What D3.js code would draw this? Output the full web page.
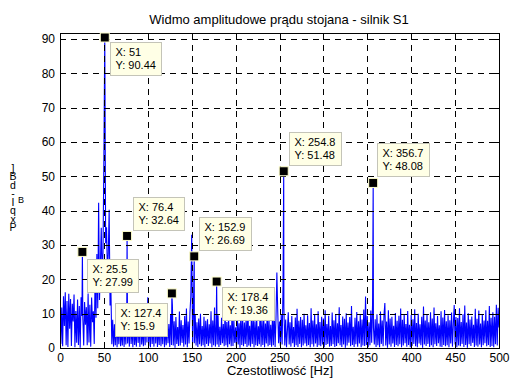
<!DOCTYPE html>
<html>
<head>
<meta charset="utf-8">
<script src="https://cdn.jsdelivr.net/npm/d3@7"></script>
<style>
  body { margin: 0; background: #fff; }
  svg { display: block; font-family: "Liberation Sans", Arial, sans-serif; }
</style>
</head>
<body>
<svg id="chart" width="511" height="379"></svg>
<script>
// ---- text ----
const titleText = "Widmo amplitudowe prądu stojana - silnik S1";
const xLabelText = "Czestotliwość [Hz]";
const yLabelText = "]Bd-IqxP";
const yLabelSub = "B";

// ---- ticks ----
const xTicks = [0, 50, 100, 150, 200, 250, 300, 350, 400, 450, 500];
const yTicks = [0, 10, 20, 30, 40, 50, 60, 70, 80, 90];

// ---- amplitude spectrum, 1 Hz bins from 0 to 500 Hz ----
const freqStep = 1;
const spectrum = [
  18.5, 1.2, 11.8, 0.5, 15.1, 6.4, 16.2, 0.8, 13.7, 0.3,
  15.8, 5.6, 14.3, 0.6, 12.9, 7.7, 15.6, 0.2, 10.8, 1.5,
  14.1, 0.9, 12.2, 0.1, 14.8, 9.3, 8.6, 0.7, 13.4, 6.8,
  11.9, 0.8, 15.9, 1.6, 12.6, 0.4, 14.7, 7.5, 10.7, 1.2,
  21.5, 8.8, 27.4, 11.6, 42.3, 14.0, 24.5, 35.0, 21.0, 28.0,
  56.0, 60.0, 30.5, 35.2, 22.0, 27.5, 40.3, 12.4, 16.8, 1.1,
  8.2, 0.4, 6.9, 0.8, 9.1, 0.2, 7.3, 1.1, 8.8, 0.5,
  5.8, 0.7, 9.4, 0.3, 6.6, 1.0, 8.3, 1.3, 7.2, 0.4,
  10.1, 1.2, 6.2, 0.2, 8.7, 0.9, 5.5, 0.4, 9.8, 1.5,
  7.1, 0.3, 11.2, 1.0, 6.0, 0.5, 8.9, 0.8, 12.3, 1.6,
  14.8, 0.6, 7.6, 0.2, 9.2, 1.2, 6.5, 0.4, 10.4, 1.3,
  8.0, 0.3, 6.8, 0.9, 9.6, 0.5, 7.4, 1.1, 11.0, 0.2,
  6.3, 0.8, 8.5, 1.4, 7.0, 0.3, 9.9, 0.9, 12.6, 0.7,
  7.8, 0.1, 9.0, 1.2, 6.1, 0.6, 10.6, 0.7, 8.1, 1.5,
  6.7, 0.4, 9.3, 1.0, 11.5, 0.2, 7.7, 1.3, 10.2, 15.2,
  33.0, 1.6, 12.8, 1.4, 9.7, 0.7, 7.5, 0.3, 8.6, 1.1,
  10.0, 0.5, 6.4, 0.8, 9.1, 0.2, 7.9, 1.2, 8.4, 0.6,
  6.9, 1.3, 10.7, 0.2, 8.0, 0.8, 11.8, 0.4, 7.3, 1.0,
  9.5, 0.3, 6.2, 0.9, 8.8, 1.4, 7.0, 0.5, 10.3, 0.8,
  7.6, 0.2, 9.4, 1.1, 6.6, 0.5, 11.1, 0.6, 8.2, 1.5,
  6.0, 0.3, 9.8, 1.0, 7.2, 0.1, 10.5, 0.9, 8.7, 0.5,
  7.4, 1.2, 9.0, 0.3, 11.7, 0.7, 6.5, 0.4, 8.9, 1.2,
  10.2, 0.2, 7.8, 0.8, 9.6, 0.6, 6.3, 1.1, 12.0, 0.4,
  8.1, 0.9, 9.7, 0.2, 7.1, 1.3, 10.8, 0.5, 8.5, 0.9,
  6.8, 0.4, 9.2, 0.8, 11.3, 0.3, 8.4, 22.0, 10.6, 1.4,
  7.7, 0.6, 9.9, 1.0, 17.5, 12.0, 0.7, 8.3, 0.2, 5.2,
  10.4, 1.0, 7.5, 0.4, 9.3, 1.4, 6.1, 0.3, 8.9, 0.8,
  11.4, 0.3, 7.9, 1.2, 9.0, 0.2, 8.2, 0.7, 10.0, 1.3,
  6.6, 0.5, 9.5, 0.9, 7.3, 0.2, 11.6, 1.1, 8.0, 0.4,
  9.8, 1.3, 6.9, 0.3, 10.7, 0.8, 7.6, 0.5, 9.1, 1.0,
  8.6, 0.2, 11.0, 0.9, 7.0, 1.2, 9.4, 0.4, 6.4, 0.6,
  10.3, 1.1, 8.1, 0.3, 9.7, 0.6, 7.2, 1.4, 11.9, 0.8,
  6.7, 0.3, 9.2, 1.0, 8.5, 0.1, 10.1, 0.7, 7.4, 1.5,
  9.0, 0.5, 12.2, 0.9, 6.2, 0.3, 8.8, 1.1, 10.5, 0.4,
  7.8, 1.3, 9.6, 0.2, 8.3, 0.7, 11.2, 0.6, 15.0, 0.9,
  9.3, 0.2, 7.5, 0.8, 10.9, 1.5, 13.0, 6.0, 1.0, 8.4,
  0.3, 9.8, 0.8, 7.1, 0.2, 10.6, 1.2, 8.0, 0.5, 9.5,
  13.1, 0.7, 7.7, 0.1, 11.0, 1.0, 8.6, 0.4, 9.1, 1.3,
  6.5, 0.3, 10.2, 0.9, 7.9, 0.5, 9.4, 1.1, 11.5, 0.2,
  8.2, 0.7, 9.9, 1.4, 7.0, 0.4, 10.8, 0.9, 6.8, 0.2,
  9.6, 0.6, 8.4, 1.2, 11.3, 0.5, 7.3, 0.2, 10.0, 1.3,
  6.9, 0.8, 9.1, 0.1, 12.1, 1.0, 8.0, 0.6, 9.7, 1.2,
  7.5, 0.3, 10.4, 0.8, 8.6, 0.2, 11.8, 1.1, 7.2, 0.6,
  9.3, 1.4, 6.6, 0.4, 10.7, 0.3, 8.9, 0.9, 11.1, 0.5,
  7.8, 0.8, 9.5, 0.2, 8.1, 1.3, 10.3, 0.4, 7.0, 12.5,
  1.0, 9.0, 0.2, 8.7, 0.7, 11.6, 0.5, 7.6, 1.2, 9.8,
  0.3, 12.4, 0.9, 7.4, 0.1, 10.1, 1.1, 8.3, 0.6, 9.2,
  1.5, 6.8, 0.3, 11.4, 0.7, 8.5, 0.4, 10.9, 1.0, 7.1,
  0.2, 9.7, 0.8, 8.0, 1.4, 11.0, 0.5, 7.9, 0.9, 12.2,
  0.3, 8.8, 0.6, 10.4, 0.2, 9.1, 1.1, 12.6, 0.7, 11.7,
  6.0
];

// ---- harmonic peaks marked with data tips ----
const peakFreqs  = [51, 25.5, 76.4, 127.4, 152.9, 178.4, 254.8, 356.7];
const peakValues = [90.44, 27.99, 32.64, 15.9, 26.69, 19.36, 51.48, 48.08];
// where each tip box sits relative to its marker (px)
const tipOffsets = [[5, 5], [5, 7], [6, -39], [-57, 9.5], [5, -39], [5, 5], [5, -39], [4, -40]];

// ---- layout ----
const plot = { left: 60, right: 499, top: 33, bottom: 348 };
const yMax = 91.75;

const svg = d3.select("#chart");

const x = d3.scaleLinear().domain([0, 500]).range([plot.left, plot.right]);
const y = d3.scaleLinear().domain([0, yMax]).range([plot.bottom, plot.top]);

// merge the binned spectrum with the exact peak points
const peakSet = new Set(peakFreqs);
const points = spectrum
  .map((v, i) => [i * freqStep, v])
  .filter(p => !peakSet.has(p[0]))
  .concat(peakFreqs.map((f, i) => [f, peakValues[i]]))
  .sort((a, b) => a[0] - b[0]);

// clip for the trace
svg.append("defs").append("clipPath").attr("id", "plotClip")
  .append("rect")
  .attr("x", plot.left).attr("y", plot.top)
  .attr("width", plot.right - plot.left).attr("height", plot.bottom - plot.top);

// white axes background
svg.append("rect")
  .attr("x", plot.left).attr("y", plot.top)
  .attr("width", plot.right - plot.left).attr("height", plot.bottom - plot.top)
  .attr("fill", "#fff");

// spectrum trace
const line = d3.line().x(d => x(d[0])).y(d => y(d[1]));
svg.append("path")
  .datum(points)
  .attr("clip-path", "url(#plotClip)")
  .attr("d", line)
  .attr("fill", "none")
  .attr("stroke", "#0000ff")
  .attr("stroke-width", 1.1);

// dashed grid
const grid = svg.append("g").attr("stroke", "#000").attr("stroke-width", 1)
  .attr("stroke-dasharray", "6,5").attr("shape-rendering", "crispEdges");
grid.selectAll("line.gx").data(xTicks.slice(1, -1)).join("line")
  .attr("class", "gx")
  .attr("x1", d => Math.round(x(d)) + 0.5).attr("x2", d => Math.round(x(d)) + 0.5)
  .attr("y1", plot.bottom).attr("y2", plot.top);
grid.selectAll("line.gy").data(yTicks.slice(1)).join("line")
  .attr("class", "gy")
  .attr("y1", d => Math.round(y(d)) + 0.5).attr("y2", d => Math.round(y(d)) + 0.5)
  .attr("x1", plot.left).attr("x2", plot.right);

// axes with inward ticks on all four sides
const tickLen = 4;
const axB = svg.append("g").attr("transform", `translate(0,${plot.bottom})`)
  .call(d3.axisBottom(x).tickValues(xTicks).tickSizeInner(-tickLen).tickSizeOuter(0).tickPadding(5));
const axT = svg.append("g").attr("transform", `translate(0,${plot.top})`)
  .call(d3.axisTop(x).tickValues(xTicks).tickSizeInner(-tickLen).tickSizeOuter(0).tickFormat(""));
const axL = svg.append("g").attr("transform", `translate(${plot.left},0)`)
  .call(d3.axisLeft(y).tickValues(yTicks).tickSizeInner(-tickLen).tickSizeOuter(0).tickPadding(5));
const axR = svg.append("g").attr("transform", `translate(${plot.right},0)`)
  .call(d3.axisRight(y).tickValues(yTicks).tickSizeInner(-tickLen).tickSizeOuter(0).tickFormat(""));

[axB, axT, axL, axR].forEach(a => {
  a.select(".domain").remove();
  a.selectAll(".tick line").attr("stroke", "#000").attr("shape-rendering", "crispEdges");
  a.selectAll(".tick text").attr("fill", "#000")
    .style("font-family", '"Liberation Sans", Arial, sans-serif').style("font-size", "12px");
});

// box frame
svg.append("rect")
  .attr("x", plot.left + 0.5).attr("y", plot.top + 0.5)
  .attr("width", plot.right - plot.left).attr("height", plot.bottom - plot.top)
  .attr("fill", "none").attr("stroke", "#000").attr("stroke-width", 1)
  .attr("shape-rendering", "crispEdges");

// title and axis labels
svg.append("text")
  .attr("x", 279).attr("y", 24)
  .attr("text-anchor", "middle").style("font-size", "13px")
  .text(titleText);

svg.append("text")
  .attr("x", 280).attr("y", 375)
  .attr("text-anchor", "middle").style("font-size", "13px")
  .text(xLabelText);

// y-axis label: upright glyphs stacked top to bottom
svg.append("text")
  .attr("x", 13).attr("y", 162)
  .attr("textLength", 71)
  .attr("lengthAdjust", "spacing")
  .style("writing-mode", "vertical-rl")
  .style("text-orientation", "upright")
  .style("font-size", "10.5px")
  .text(yLabelText);
svg.append("text").attr("x", 18).attr("y", 203).style("font-size", "9px").text(yLabelSub);

// data tips
const tips = svg.append("g");
peakFreqs.forEach((f, i) => {
  const v = peakValues[i];
  const mx = x(f), my = y(v);
  const [dx, dy] = tipOffsets[i];
  const g = tips.append("g");
  const bx = Math.round(mx + dx) + 0.5, by = Math.round(my + dy) + 0.5;
  const rect = g.append("rect")
    .attr("x", bx).attr("y", by).attr("height", 33)
    .attr("fill", "#ffffe6").attr("stroke", "#c4c4b8").attr("stroke-width", 1);
  const t1 = g.append("text").attr("x", bx + 5).attr("y", by + 13.5)
    .style("font-size", "11px").text("X: " + f);
  const t2 = g.append("text").attr("x", bx + 5).attr("y", by + 26.5)
    .style("font-size", "11px").text("Y: " + v);
  const w = Math.max(t1.node().getComputedTextLength(), t2.node().getComputedTextLength());
  rect.attr("width", Math.round(w + 11));

  svg.append("rect")
    .attr("x", mx - 4.5).attr("y", my - 4.5)
    .attr("width", 9).attr("height", 9)
    .attr("fill", "#000").attr("stroke", "#ffffcc").attr("stroke-width", 1);
});
</script>
</body>
</html>
